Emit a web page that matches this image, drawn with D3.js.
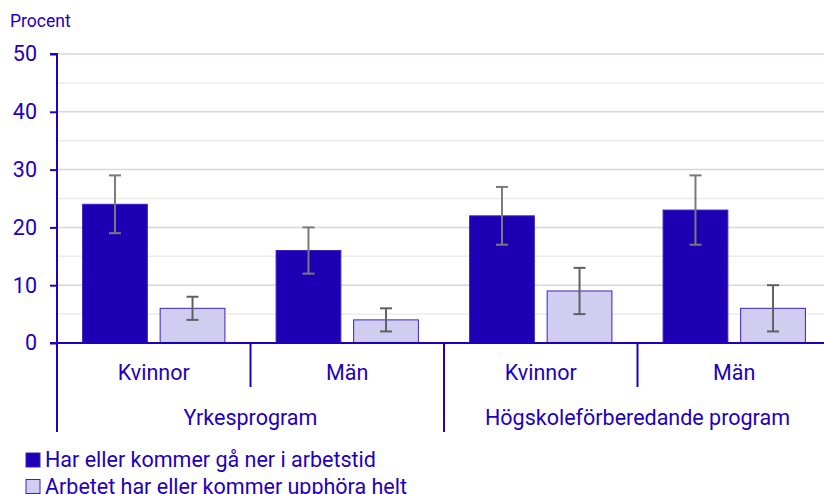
<!DOCTYPE html>
<html>
<head>
<meta charset="utf-8">
<script src="https://cdn.jsdelivr.net/npm/d3@7"></script>
<style>
  body { margin: 0; background: #fff; }
  text { font-family: Roboto, sans-serif; fill: #1e00be; }
</style>
</head>
<body>
<svg id="chart" width="824" height="494"></svg>
<script>
const programs = ['Yrkesprogram', 'Högskoleförberedande program'];
const genders = ['Kvinnor', 'Män'];
const seriesNames = ['Har eller kommer gå ner i arbetstid', 'Arbetet har eller kommer upphöra helt'];
// per category: Yrk-Kvinnor, Yrk-Män, Hög-Kvinnor, Hög-Män
const reduceValues = [24, 16, 22, 23];
const reduceLow = [19, 12, 17, 17];
const reduceHigh = [29, 20, 27, 29];
const quitValues = [6, 4, 9, 6];
const quitLow = [4, 2, 5, 2];
const quitHigh = [8, 6, 13, 10];
const yTicks = [0, 10, 20, 30, 40, 50];

const svg = d3.select('#chart');
const margin = {left: 57, right: -7, top: 54, bottom: 151};
const width = 824, height = 494;
const textColor = '#1e00be';
const darkFill = '#1e00b4';
const lightFill = '#d1cdf0';
const fontSize = '21.5px';

const categories = [];
programs.forEach(p => genders.forEach(g => categories.push(p + '|' + g)));

const x = d3.scaleBand()
  .domain(categories)
  .range([margin.left, width - margin.right])
  .paddingInner(0)
  .paddingOuter(0);

const xSub = d3.scaleBand()
  .domain([0, 1])
  .range([0, x.bandwidth()])
  .paddingInner(0.165)
  .paddingOuter(0.33);

const y = d3.scaleLinear()
  .domain([0, 50])
  .range([height - margin.bottom, margin.top]);

// gridlines
const minor = d3.range(5, 50, 10);
svg.append('g').selectAll('line.minor')
  .data(minor)
  .join('line')
    .attr('x1', margin.left).attr('x2', width)
    .attr('y1', d => y(d)).attr('y2', d => y(d))
    .attr('stroke', '#ececec').attr('stroke-width', 1.5);
svg.append('g').selectAll('line.major')
  .data(yTicks.slice(1))
  .join('line')
    .attr('x1', margin.left).attr('x2', width)
    .attr('y1', d => y(d)).attr('y2', d => y(d))
    .attr('stroke', '#d7d4ee').attr('stroke-width', 1.5);

// data rows
const rows = categories.map((c, i) => ({
  cat: c,
  bars: [
    {s: 0, v: reduceValues[i], lo: reduceLow[i], hi: reduceHigh[i]},
    {s: 1, v: quitValues[i], lo: quitLow[i], hi: quitHigh[i]}
  ]
}));

const groups = svg.append('g').selectAll('g')
  .data(rows)
  .join('g')
    .attr('transform', d => `translate(${x(d.cat)},0)`);

groups.selectAll('rect')
  .data(d => d.bars)
  .join('rect')
    .attr('x', d => xSub(d.s))
    .attr('width', xSub.bandwidth())
    .attr('y', d => y(d.v))
    .attr('height', d => y(0) - y(d.v))
    .attr('fill', d => d.s === 0 ? darkFill : lightFill)
    .attr('stroke', '#3a22c4')
    .attr('stroke-width', 1);

// error bars
const err = groups.selectAll('g.err')
  .data(d => d.bars)
  .join('g')
    .attr('class', 'err')
    .attr('stroke', d => d.s === 0 ? '#7a7a7a' : '#606060')
    .attr('stroke-width', 2);
const cx = d => xSub(d.s) + xSub.bandwidth() / 2;
err.append('line')
  .attr('x1', cx).attr('x2', cx)
  .attr('y1', d => y(d.lo)).attr('y2', d => y(d.hi));
err.append('line')
  .attr('x1', d => cx(d) - 6).attr('x2', d => cx(d) + 6)
  .attr('y1', d => y(d.lo)).attr('y2', d => y(d.lo));
err.append('line')
  .attr('x1', d => cx(d) - 6).attr('x2', d => cx(d) + 6)
  .attr('y1', d => y(d.hi)).attr('y2', d => y(d.hi));

// y axis
const yAxis = svg.append('g')
  .attr('transform', `translate(${margin.left},0)`)
  .call(d3.axisLeft(y).tickValues(yTicks).tickSize(7).tickPadding(13));
yAxis.select('.domain').attr('stroke', textColor).attr('stroke-width', 2)
  .attr('d', `M-7,${y(50)}H0V${y(0)}`);
yAxis.selectAll('.tick line').attr('stroke', textColor).attr('stroke-width', 2);
yAxis.selectAll('.tick text')
  .attr('fill', textColor)
  .style('font-size', fontSize)
  .style('font-family', 'Roboto, sans-serif');

svg.append('text')
  .attr('x', 10).attr('y', 27)
  .style('font-size', '17.5px')
  .text('Procent');

// x axis baseline
svg.append('line')
  .attr('x1', margin.left - 7).attr('x2', width)
  .attr('y1', y(0)).attr('y2', y(0))
  .attr('stroke', textColor).attr('stroke-width', 2);

// separators
const progStarts = [0, 2].map(i => x(categories[i]));
svg.append('g').selectAll('line')
  .data(progStarts)
  .join('line')
    .attr('x1', d => d).attr('x2', d => d)
    .attr('y1', y(0)).attr('y2', y(0) + 89)
    .attr('stroke', textColor).attr('stroke-width', 2);
const genderSeps = [1, 3].map(i => x(categories[i]));
svg.append('g').selectAll('line')
  .data(genderSeps)
  .join('line')
    .attr('x1', d => d).attr('x2', d => d)
    .attr('y1', y(0)).attr('y2', y(0) + 44)
    .attr('stroke', textColor).attr('stroke-width', 2);

// category labels
svg.append('g').selectAll('text')
  .data(categories)
  .join('text')
    .attr('x', d => x(d) + x.bandwidth() / 2)
    .attr('y', y(0) + 37)
    .attr('text-anchor', 'middle')
    .style('font-size', fontSize)
    .text(d => d.split('|')[1]);

svg.append('g').selectAll('text')
  .data(programs)
  .join('text')
    .attr('x', (d, i) => x(categories[i * 2]) + x.bandwidth())
    .attr('y', y(0) + 82)
    .attr('text-anchor', 'middle')
    .style('font-size', fontSize)
    .text(d => d);

// legend
const legend = svg.append('g').selectAll('g')
  .data(seriesNames)
  .join('g')
    .attr('transform', (d, i) => `translate(26,${453 + i * 26.5})`);
legend.append('rect')
  .attr('width', 14).attr('height', 14)
  .attr('fill', (d, i) => i === 0 ? darkFill : lightFill)
  .attr('stroke', '#3a22c4').attr('stroke-width', 1);
legend.append('text')
  .attr('x', 19).attr('y', 14)
  .style('font-size', fontSize)
  .text(d => d);
</script>
</body>
</html>
